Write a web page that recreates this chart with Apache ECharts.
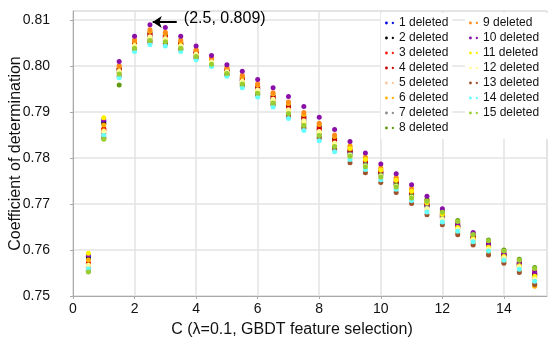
<!DOCTYPE html>
<html><head><meta charset="utf-8">
<script src="https://cdn.jsdelivr.net/npm/echarts@6/dist/echarts.min.js"></script>
<style>html,body{margin:0;padding:0;background:#fff}#c{width:553px;height:344px}</style>
</head><body><div id="c"></div>
<script>
const cValues = [0.5,1,1.5,2,2.5,3,3.5,4,4.5,5,5.5,6,6.5,7,7.5,8,8.5,9,9.5,10,10.5,11,11.5,12,12.5,13,13.5,14,14.5,15];
const xTickValues = [0,2,4,6,8,10,12,14];
const yTickValues = [0.75,0.76,0.77,0.78,0.79,0.80,0.81];
const seriesNames = ['1 deleted','2 deleted','3 deleted','4 deleted','5 deleted','6 deleted','7 deleted','8 deleted','9 deleted','10 deleted','11 deleted','12 deleted','13 deleted','14 deleted','15 deleted'];
const seriesColors = ['#0a0ae6','#000000','#ff1a1a','#c80000','#ffc8a0','#ffb000','#8c8c8c','#5f9a10','#ff8c1a','#8b10a8','#fff000','#ffffa0','#a0522d','#66ffff','#9acd32'];

const s1 = [.7586,.7880,.7990,.8046,.8065,.8061,.8047,.8027,.8009,.7989,.7968,.7949,.7929,.7907,.7882,.7860,.7835,.7812,.7788,.7766,.7744,.7720,.7695,.7671,.7651,.7627,.7608,.7588,.7568,.7545];
const s2 = [.7581,.7875,.7995,.8051,.8072,.8067,.8051,.8031,.8013,.7992,.7974,.7955,.7935,.7914,.7890,.7868,.7842,.7816,.7792,.7770,.7748,.7724,.7699,.7675,.7652,.7628,.7610,.7589,.7569,.7547];
const s3 = [.7572,.7864,.7993,.8050,.8070,.8065,.8049,.8030,.8012,.7991,.7972,.7953,.7933,.7911,.7888,.7865,.7839,.7818,.7795,.7772,.7750,.7726,.7701,.7677,.7659,.7633,.7616,.7595,.7575,.7555];
const s4 = [.7570,.7862,.7992,.8048,.8068,.8063,.8048,.8028,.8010,.7990,.7970,.7951,.7931,.7909,.7885,.7862,.7837,.7814,.7790,.7768,.7746,.7722,.7697,.7673,.7654,.7629,.7611,.7591,.7571,.7549];
const s5 = [.7564,.7855,.7986,.8043,.8061,.8057,.8043,.8024,.8007,.7986,.7964,.7945,.7924,.7901,.7877,.7854,.7829,.7801,.7778,.7757,.7735,.7711,.7686,.7663,.7644,.7620,.7600,.7581,.7561,.7535];
const s6 = [.7579,.7872,.7999,.8054,.8076,.8071,.8054,.8034,.8015,.7995,.7977,.7959,.7940,.7919,.7895,.7873,.7847,.7827,.7802,.7779,.7758,.7734,.7709,.7683,.7648,.7624,.7605,.7585,.7565,.7521];
const s7 = [.7562,.7853,.7985,.8041,.8059,.8055,.8040,.8022,.8006,.7985,.7963,.7944,.7923,.7899,.7875,.7852,.7827,.7809,.7786,.7764,.7742,.7718,.7693,.7670,.7647,.7623,.7603,.7584,.7564,.7539];
const s8 = [.7554,.7843,.7959,.8037,.8054,.8050,.8037,.8019,.8003,.7982,.7959,.7939,.7918,.7894,.7868,.7846,.7822,.7807,.7784,.7762,.7741,.7717,.7710,.7686,.7664,.7636,.7622,.7600,.7580,.7562];
const s9 = [.7568,.7860,.8001,.8057,.8079,.8074,.8057,.8036,.8017,.7997,.7980,.7962,.7942,.7922,.7899,.7876,.7850,.7824,.7799,.7776,.7755,.7731,.7706,.7680,.7637,.7615,.7594,.7575,.7555,.7527];
const s10 = [.7589,.7883,.8010,.8065,.8090,.8084,.8065,.8044,.8023,.8003,.7989,.7971,.7953,.7934,.7912,.7889,.7862,.7836,.7811,.7787,.7766,.7742,.7717,.7690,.7656,.7638,.7613,.7592,.7572,.7551];
const s11 = [.7593,.7888,.7988,.8044,.8062,.8058,.8045,.8025,.8008,.7987,.7966,.7947,.7926,.7903,.7879,.7856,.7831,.7821,.7797,.7774,.7752,.7728,.7703,.7678,.7649,.7625,.7606,.7586,.7566,.7543];
const s12 = [.7567,.7858,.7989,.8045,.8064,.8060,.8044,.8026,.8009,.7988,.7967,.7948,.7928,.7905,.7881,.7858,.7833,.7806,.7783,.7761,.7739,.7715,.7690,.7667,.7645,.7622,.7602,.7583,.7563,.7537];
const s13 = [.7556,.7846,.7978,.8035,.8051,.8048,.8035,.8017,.8001,.7980,.7957,.7937,.7915,.7891,.7865,.7843,.7819,.7790,.7768,.7747,.7725,.7701,.7677,.7655,.7633,.7611,.7589,.7571,.7551,.7525];
const s14 = [.7559,.7849,.7975,.8032,.8047,.8044,.8032,.8014,.7999,.7978,.7953,.7933,.7911,.7886,.7860,.7838,.7814,.7797,.7775,.7753,.7732,.7708,.7683,.7661,.7641,.7618,.7598,.7578,.7558,.7532];
const s15 = [.7552,.7841,.7983,.8039,.8056,.8053,.8039,.8021,.8004,.7984,.7961,.7941,.7920,.7897,.7871,.7849,.7825,.7804,.7781,.7759,.7737,.7713,.7706,.7682,.7662,.7634,.7620,.7598,.7578,.7560];
const allSeries = [s1,s2,s3,s4,s5,s6,s7,s8,s9,s10,s11,s12,s13,s14,s15];
const peakPoint = [2.5, 0.809];

const FONT = 'Liberation Sans, Arial, sans-serif';
const chart = echarts.init(document.getElementById('c'), null, {renderer:'canvas'});
const legendIcon = 'path://M0,1.5a1.5,1.5 0 1,0 3,0a1.5,1.5 0 1,0 -3,0zM7,1.5a1.2,1.2 0 1,0 2.4,0a1.2,1.2 0 1,0 -2.4,0z';

const series = allSeries.map((vals, i) => ({
  name: seriesNames[i],
  type: 'scatter',
  symbol: 'circle',
  symbolSize: 5,
  itemStyle: {color: seriesColors[i], opacity: 1},
  data: cValues.map((c, j) => [c, vals[j]]),
  z: 2
}));
series[9].markLine = {
  silent: true, animation: false,
  symbol: ['none','arrow'], symbolSize: [9, 9],
  lineStyle: {color:'#000', width: 2, type:'solid'},
  label: {show:false},
  data: [[{coord:[3.37, 0.8096]}, {coord:[peakPoint[0]+0.09, 0.8096]}]]
};
series[9].markPoint = {
  silent: true, animation: false,
  symbol: 'circle', symbolSize: 0,
  data: [{coord:[3.6, 0.8104], label:{show:true, position:'right', distance:0,
    formatter: '(' + peakPoint[0] + ', ' + peakPoint[1].toFixed(3) + ')',
    fontSize:16, color:'#000', fontFamily: FONT}}]
};

const legendCommon = {
  orient:'vertical', icon: legendIcon, itemWidth: 9, itemHeight: 3, itemGap: 1,
  backgroundColor:'#fff', selectedMode:false,
  textStyle:{fontSize:12, color:'#111', fontFamily: FONT, lineHeight: 14}
};

chart.setOption({
  animation: false,
  backgroundColor: '#fff',
  textStyle: {fontFamily: FONT},
  grid: {left: 73, top: 11, right: 6, bottom: 48, containLabel: false, outerBoundsMode: 'none',
    show: true, borderColor: '#d0d0d0', borderWidth: 1},
  xAxis: {
    type: 'value', min: 0, max: 15.4, interval: xTickValues[1]-xTickValues[0],
    name: 'C (\u03bb=0.1, GBDT feature selection)', nameLocation: 'middle', nameGap: 26,
    nameMoveOverlap: false,
    nameTextStyle: {fontSize: 16, color:'#111', fontFamily: FONT, padding:[0,36,0,0]},
    axisLine: {show:true, onZero:false, lineStyle:{color:'#aaa'}},
    axisTick: {show:true, length:3, lineStyle:{color:'#aaa'}},
    axisLabel: {fontSize: 14, color:'#111', margin: 6, showMaxLabel:false, fontFamily: FONT},
    splitLine: {show:true, lineStyle:{color:'#e3e3e3', width:1.5}}
  },
  yAxis: {
    type: 'value', min: yTickValues[0], max: 0.812, interval: 0.01,
    name: 'Coefficient of determination', nameLocation: 'middle', nameGap: 49,
    nameMoveOverlap: false,
    nameTextStyle: {fontSize: 16, color:'#111', fontFamily: FONT},
    axisLine: {show:true, lineStyle:{color:'#aaa'}},
    axisTick: {show:true, length:3, lineStyle:{color:'#aaa'}},
    axisLabel: {fontSize: 14, color:'#111', margin: 23, showMaxLabel:false, fontFamily: FONT,
      formatter: v => v.toFixed(2)},
    splitLine: {show:true, lineStyle:{color:'#e3e3e3', width:1.5}}
  },
  legend: [
    Object.assign({}, legendCommon, {left: 381, top: 13, padding:[3,4,4,4], data: seriesNames.slice(0,8)}),
    Object.assign({}, legendCommon, {left: 465, top: 13, padding:[3,10,19,4], data: seriesNames.slice(8)})
  ],
  series: series
});
</script>
</body></html>
